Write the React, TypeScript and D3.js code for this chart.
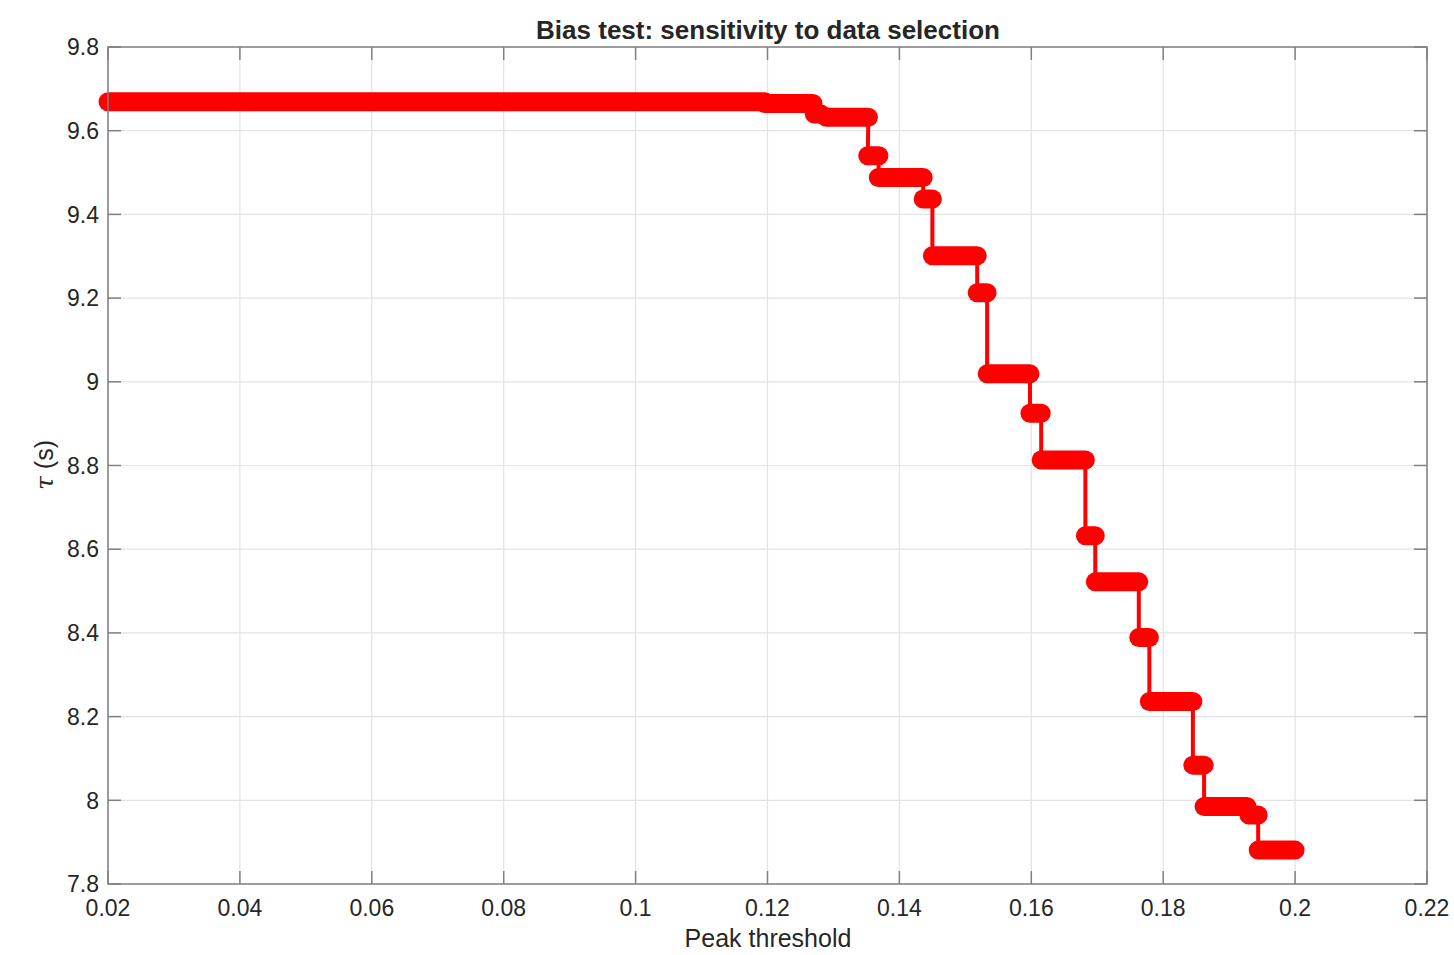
import React from "react";
import * as d3 from "d3";

// Step levels of tau vs peak threshold (marker-dense runs)
const stepStart = [0.0200, 0.1196, 0.1271, 0.1289, 0.1352, 0.1368, 0.1436, 0.1450, 0.1518, 0.1533, 0.1598, 0.1615, 0.1682, 0.1697, 0.1763, 0.1779, 0.1845, 0.1862, 0.1930, 0.1944];
const stepEnd = [0.1196, 0.1269, 0.1281, 0.1353, 0.1369, 0.1436, 0.1450, 0.1518, 0.1533, 0.1598, 0.1615, 0.1682, 0.1697, 0.1763, 0.1779, 0.1845, 0.1862, 0.1927, 0.1944, 0.2000];
const tauValues = [9.669, 9.665, 9.640, 9.632, 9.540, 9.488, 9.437, 9.301, 9.213, 9.019, 8.925, 8.813, 8.632, 8.522, 8.389, 8.236, 8.084, 7.985, 7.965, 7.881];

const xTicks = [0.02, 0.04, 0.06, 0.08, 0.1, 0.12, 0.14, 0.16, 0.18, 0.2, 0.22];
const yTicks = [7.8, 8, 8.2, 8.4, 8.6, 8.8, 9, 9.2, 9.4, 9.6, 9.8];

const W = 1454, H = 955;
const M = { left: 108, right: 1427, top: 47, bottom: 884 };
const FONT = "'Liberation Sans', Arial, Helvetica, sans-serif";
const TXT = "#262626";

export default function App() {
  const x = d3.scaleLinear().domain([0.02, 0.22]).range([M.left, M.right]);
  const y = d3.scaleLinear().domain([7.8, 9.8]).range([M.bottom, M.top]);

  const pts: [number, number][] = [];
  tauValues.forEach((t, i) => {
    pts.push([stepStart[i], t]);
    pts.push([stepEnd[i], t]);
  });
  const line = d3.line<[number, number]>().x(d => x(d[0])).y(d => y(d[1]));
  const tickLen = 13;

  return (
    <svg width={W} height={H} style={{ position: "absolute", left: 0, top: 0, background: "#fff" }}>
      <rect x={0} y={0} width={W} height={H} fill="#fff" />
      {/* grid */}
      {xTicks.map((t, i) => (
        <line key={"gx" + i} x1={x(t)} x2={x(t)} y1={M.top} y2={M.bottom} stroke="#e3e3e3" strokeWidth={1.2} />
      ))}
      {yTicks.map((t, i) => (
        <line key={"gy" + i} x1={M.left} x2={M.right} y1={y(t)} y2={y(t)} stroke="#e3e3e3" strokeWidth={1.2} />
      ))}
      {/* data */}
      <path d={line(pts) || ""} fill="none" stroke="#ff0000" strokeWidth={4} strokeLinejoin="round" />
      {tauValues.map((t, i) => (
        <line key={"s" + i} x1={x(stepStart[i])} x2={x(stepEnd[i])} y1={y(t)} y2={y(t)}
          stroke="#ff0000" strokeWidth={19} strokeLinecap="round" />
      ))}
      {/* box */}
      <rect x={M.left} y={M.top} width={M.right - M.left} height={M.bottom - M.top} fill="none" stroke="#808080" strokeWidth={1.5} />
      {/* ticks */}
      {xTicks.map((t, i) => (
        <g key={"tx" + i}>
          <line x1={x(t)} x2={x(t)} y1={M.bottom} y2={M.bottom - tickLen} stroke="#808080" strokeWidth={1.5} />
          <line x1={x(t)} x2={x(t)} y1={M.top} y2={M.top + tickLen} stroke="#808080" strokeWidth={1.5} />
          <text x={x(t)} y={916} textAnchor="middle" fontFamily={FONT} fontSize={23} fill={TXT}>{String(t)}</text>
        </g>
      ))}
      {yTicks.map((t, i) => (
        <g key={"ty" + i}>
          <line x1={M.left} x2={M.left + tickLen} y1={y(t)} y2={y(t)} stroke="#808080" strokeWidth={1.5} />
          <line x1={M.right} x2={M.right - tickLen} y1={y(t)} y2={y(t)} stroke="#808080" strokeWidth={1.5} />
          <text x={99} y={y(t)} dy="0.36em" textAnchor="end" fontFamily={FONT} fontSize={23} fill={TXT}>{String(t)}</text>
        </g>
      ))}
      {/* labels */}
      <text x={768} y={947} textAnchor="middle" fontFamily={FONT} fontSize={25} fill={TXT}>Peak threshold</text>
      <text transform="translate(53,465) rotate(-90)" textAnchor="middle" fontFamily={FONT} fontSize={25} fill={TXT}>
        <tspan fontStyle="italic" fontFamily="'DejaVu Serif', serif">τ</tspan>
        <tspan> (s)</tspan>
      </text>
      <text x={768} y={39} textAnchor="middle" fontFamily={FONT} fontSize={26} fontWeight="bold" fill={TXT}>
        Bias test: sensitivity to data selection
      </text>
    </svg>
  );
}
